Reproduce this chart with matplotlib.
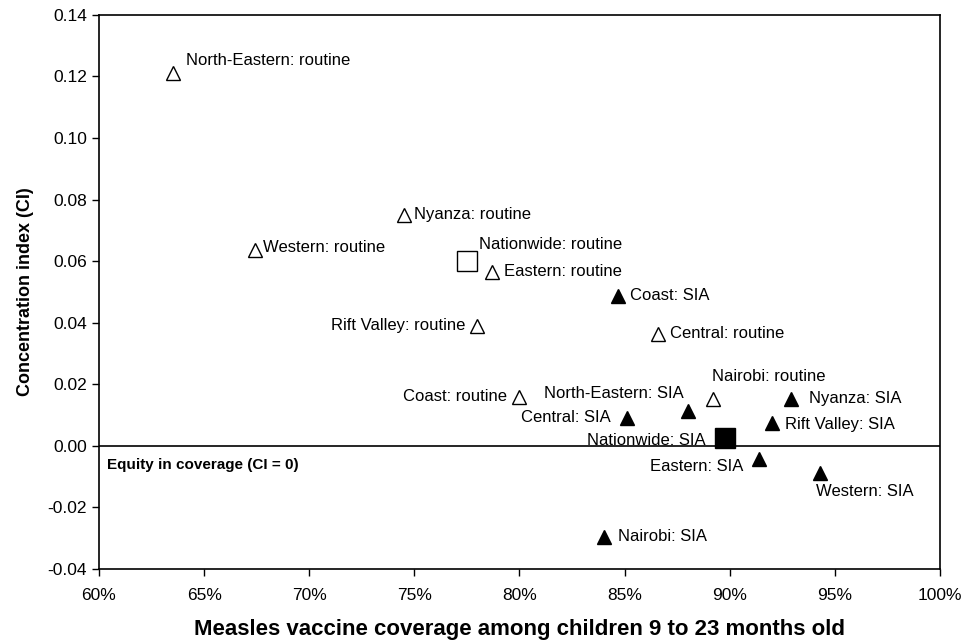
import matplotlib
matplotlib.use("Agg")
import matplotlib.pyplot as plt
from matplotlib.ticker import FuncFormatter

plt.rcParams["font.family"] = ["Liberation Sans", "DejaVu Sans"]

# routine immunisation (open triangles)
routine_names = ["North-Eastern", "Nyanza", "Western", "Eastern", "Rift Valley",
                 "Central", "Coast", "Nairobi"]
routine_cov = [63.5, 74.5, 67.4, 78.7, 78.0, 86.6, 80.0, 89.2]
routine_ci = [0.121, 0.075, 0.0637, 0.0566, 0.039, 0.0364, 0.016, 0.0153]

# supplementary immunisation activity (filled triangles)
sia_names = ["Coast", "North-Eastern", "Central", "Nyanza", "Rift Valley",
             "Eastern", "Western", "Nairobi"]
sia_cov = [84.7, 88.0, 85.1, 92.9, 92.0, 91.4, 94.3, 84.0]
sia_ci = [0.0488, 0.0114, 0.0092, 0.0153, 0.0075, -0.0042, -0.0087, -0.0295]

# nationwide (squares)
nat_cov = [77.5, 89.8]
nat_ci = [0.060, 0.0027]

# label offsets in pixels (dx, dy, ha)
routine_off = [(13, 13, "left"), (10, 0, "left"), (8, 2, "left"), (12, 0, "left"),
               (-12, 0, "right"), (12, 0, "left"), (-12, 0, "right"), (-1, 22, "left")]
sia_off = [(12, 0, "left"), (-4, 17, "right"), (-16, 0, "right"), (18, 0, "left"),
           (13, -2, "left"), (-16, -8, "right"), (-4, -19, "left"), (14, 0, "left")]
nat_off = [(12, 17, "left"), (-20, -3, "right")]

fig = plt.figure(figsize=(9.7, 6.42), dpi=100)
ax = fig.add_axes([0.102, 0.1137, 0.867, 0.8633])

ax.axhline(0, color="black", lw=1.2, zorder=1)

ax.plot(routine_cov, routine_ci, "^", ms=10, mfc="white", mec="black", mew=1.0, ls="none")
ax.plot(sia_cov, sia_ci, "^", ms=10, mfc="black", mec="black", ls="none")
ax.plot(nat_cov[:1], nat_ci[:1], "s", ms=14, mfc="white", mec="black", mew=1.0)
ax.plot(nat_cov[1:], nat_ci[1:], "s", ms=14, mfc="black", mec="black")

def label(xs, ys, texts, offs):
    for x, y, t, (dx, dy, ha) in zip(xs, ys, texts, offs):
        ax.annotate(t, (x, y), xytext=(dx, dy), textcoords="offset pixels",
                    ha=ha, va="center", fontsize=12)

label(routine_cov, routine_ci, [n + ": routine" for n in routine_names], routine_off)
label(sia_cov, sia_ci, [n + ": SIA" for n in sia_names], sia_off)
label(nat_cov, nat_ci, ["Nationwide: routine", "Nationwide: SIA"], nat_off)

ax.text(60.4, -0.0061, "Equity in coverage (CI = 0)", fontsize=11, fontweight="bold",
        va="center", ha="left")

ax.set_xlim(60, 100)
ax.set_ylim(-0.04, 0.14)
ax.set_xticks(range(60, 101, 5))
ax.set_yticks([-0.04 + 0.02 * i for i in range(10)])
ax.xaxis.set_major_formatter(FuncFormatter(lambda v, p: f"{v:.0f}%"))
ax.yaxis.set_major_formatter(FuncFormatter(lambda v, p: f"{v:.2f}"))
ax.tick_params(labelsize=12.5, direction="out", length=5, width=1)
ax.tick_params(axis="x", pad=9)
for s in ax.spines.values():
    s.set_linewidth(1.2)

ax.set_xlabel("Measles vaccine coverage among children 9 to 23 months old",
              fontsize=16, fontweight="bold", labelpad=11)
ax.set_ylabel("Concentration index (CI)", fontsize=13, fontweight="bold", labelpad=10)

fig.savefig("out.png", dpi=100)
